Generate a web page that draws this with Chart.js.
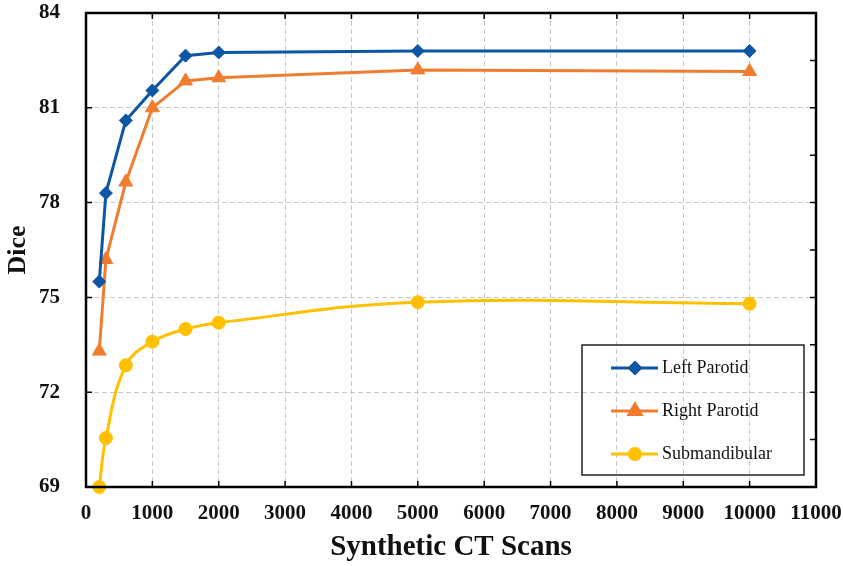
<!DOCTYPE html>
<html>
<head>
<meta charset="utf-8">
<script src="https://cdn.jsdelivr.net/npm/chart.js@4.4.0/dist/chart.umd.min.js"></script>
<style>
  html, body { margin: 0; padding: 0; background: #fff; }
  canvas { display: block; }
</style>
</head>
<body>
<canvas id="diceChart" width="843" height="566"></canvas>
<script>
// values
const scanCounts = [200, 300, 600, 1000, 1500, 2000, 5000, 10000];
const leftParotid = [75.5, 78.3, 80.6, 81.55, 82.65, 82.75, 82.8, 82.8];
const rightParotid = [73.3, 76.2, 78.65, 81.0, 81.85, 81.95, 82.2, 82.15];
const submandibular = [69.0, 70.55, 72.85, 73.6, 74.0, 74.2, 74.85, 74.8];
const seriesNames = ['Left Parotid', 'Right Parotid', 'Submandibular'];

const SERIF = '"Liberation Serif", "Times New Roman", serif';

function pts(vals) {
    return vals.map((v, i) => ({ x: scanCounts[i], y: v }));
}

// border, inward ticks and the boxed legend
const framePlugin = {
    id: 'frame',
    afterDatasetsDraw(chart) {
        const { ctx, chartArea: a, scales } = chart;
        const xs = scales.x, ys = scales.y;
        ctx.save();
        ctx.strokeStyle = '#000';
        ctx.lineWidth = 1.5;
        ctx.setLineDash([]);
        ctx.beginPath();
        xs.ticks.forEach(t => {
            const px = xs.getPixelForValue(t.value);
            ctx.moveTo(px, a.top); ctx.lineTo(px, a.top + 6);
            ctx.moveTo(px, a.bottom); ctx.lineTo(px, a.bottom - 6);
        });
        ys.ticks.forEach(t => {
            const py = ys.getPixelForValue(t.value);
            ctx.moveTo(a.left, py); ctx.lineTo(a.left + 6, py);
            ctx.moveTo(a.right, py); ctx.lineTo(a.right - 6, py);
            const mid = ys.getPixelForValue(t.value + 1.5);
            if (t.value < ys.max) {
                ctx.moveTo(a.right, mid); ctx.lineTo(a.right - 6, mid);
            }
        });
        ctx.stroke();
        ctx.lineWidth = 2.5;
        ctx.strokeRect(a.left, a.top, a.right - a.left, a.bottom - a.top);

        // legend
        const bx = 582, by = 345, bw = 222, bh = 130;
        ctx.lineWidth = 1.5;
        ctx.strokeStyle = '#222';
        ctx.strokeRect(bx, by, bw, bh);
        ctx.font = '18px ' + SERIF;
        ctx.textBaseline = 'middle';
        chart.data.datasets.forEach((ds, i) => {
            const cy = by + 23 + i * 43;
            ctx.strokeStyle = ds.borderColor;
            ctx.lineWidth = 3;
            ctx.beginPath();
            ctx.moveTo(bx + 29, cy); ctx.lineTo(bx + 76, cy);
            ctx.stroke();
            ctx.fillStyle = ds.pointBackgroundColor;
            ctx.strokeStyle = ds.pointBorderColor;
            Chart.helpers.drawPoint(ctx, {
                pointStyle: ds.pointStyle,
                radius: ds.pointRadius - 1,
                rotation: 0,
                borderWidth: 1
            }, bx + 53, cy);
            ctx.fillStyle = '#111';
            ctx.fillText(seriesNames[i], bx + 80, cy);
        });
        ctx.restore();
    }
};

const lineSet = (label, vals, color, style, r, tension) => ({
    label: label,
    data: pts(vals),
    borderColor: color,
    backgroundColor: color,
    pointBackgroundColor: color,
    pointBorderColor: color,
    pointStyle: style,
    pointRadius: r,
    pointBorderWidth: 1,
    borderWidth: 3,
    tension: tension,
    clip: false
});

new Chart(document.getElementById('diceChart'), {
    type: 'line',
    data: {
        datasets: [
            lineSet(seriesNames[0], leftParotid, '#0d56a3', 'rectRot', 6.5, 0),
            lineSet(seriesNames[1], rightParotid, '#f07c2f', 'triangle', 8, 0),
            lineSet(seriesNames[2], submandibular, '#ffc000', 'circle', 6.5, 0.4)
        ]
    },
    options: {
        responsive: false,
        animation: false,
        devicePixelRatio: 1,
        layout: { padding: { top: 13, right: 27, left: 0, bottom: 0 } },
        plugins: {
            legend: { display: false },
            tooltip: { enabled: false }
        },
        scales: {
            x: {
                type: 'linear',
                min: 0,
                max: 11000,
                ticks: {
                    stepSize: 1000,
                    autoSkip: false,
                    maxRotation: 0,
                    padding: 14,
                    color: '#111',
                    font: { family: SERIF, size: 21, weight: 'bold' },
                    callback: v => String(v)
                },
                grid: { color: '#c8c8c8', lineWidth: 1, drawTicks: false },
                border: { display: false, dash: [5, 3] },
                title: {
                    display: true,
                    text: 'Synthetic CT Scans',
                    color: '#111',
                    padding: { top: 0, bottom: 1 },
                    font: { family: SERIF, size: 29, weight: 'bold' }
                },
                afterFit(scale) {
                    scale.height = 79;
                    scale.paddingLeft = 0;
                    scale.paddingRight = 0;
                }
            },
            y: {
                min: 69,
                max: 84,
                ticks: {
                    stepSize: 3,
                    padding: 26,
                    color: '#111',
                    font: { family: SERIF, size: 21, weight: 'bold' }
                },
                grid: { color: '#c8c8c8', lineWidth: 1, drawTicks: false },
                border: { display: false, dash: [5, 3] },
                title: {
                    display: true,
                    text: 'Dice',
                    color: '#111',
                    padding: { top: 3, bottom: 0 },
                    font: { family: SERIF, size: 26, weight: 'bold' }
                },
                afterFit(scale) {
                    scale.width = 86;
                    scale.paddingTop = 0;
                    scale.paddingBottom = 0;
                }
            }
        }
    },
    plugins: [framePlugin]
});
</script>
</body>
</html>
